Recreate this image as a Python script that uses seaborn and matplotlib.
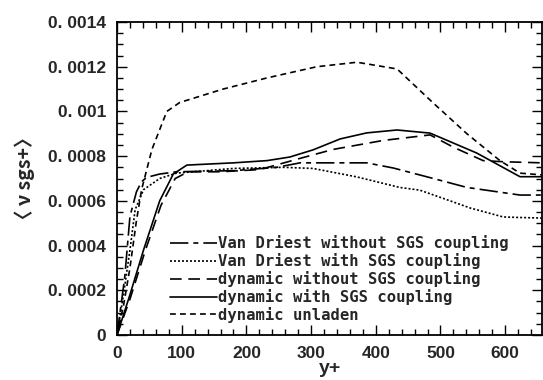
import matplotlib
matplotlib.use("Agg")
import matplotlib.pyplot as plt
import seaborn as sns
import pandas as pd
from matplotlib.ticker import MultipleLocator

# ---- data ----
labels = ["Van Driest without SGS coupling", "Van Driest with SGS coupling",
          "dynamic without SGS coupling", "dynamic with SGS coupling", "dynamic unladen"]

vd_without_x = [0, 12, 20, 30, 38, 46, 66, 92, 180, 247, 283, 386, 427, 489, 541, 623, 657]
vd_without_y = [0, 0.00026, 0.00053, 0.00064, 0.000686, 0.000705, 0.00072, 0.00073, 0.000735,
                0.00075, 0.00077, 0.00077, 0.000747, 0.0007, 0.00066, 0.000626, 0.000626]

vd_with_x = [0, 10, 20, 28, 41, 66, 92, 180, 257, 303, 371, 437, 468, 515, 546, 597, 618, 657]
vd_with_y = [0, 0.00018, 0.00038, 0.00056, 0.00065, 0.0007, 0.000724, 0.000745, 0.00075,
             0.000745, 0.000707, 0.00066, 0.000648, 0.0006, 0.000568, 0.000528, 0.000526, 0.000523]

dyn_without_x = [0, 20, 44, 68, 90, 110, 160, 221, 283, 334, 411, 484, 520, 566, 597, 657]
dyn_without_y = [0, 0.00016, 0.00038, 0.00058, 0.0007, 0.00073, 0.00073, 0.00074, 0.00079,
                 0.00083, 0.00087, 0.000895, 0.00084, 0.00078, 0.000775, 0.00077]

dyn_with_x = [0, 20, 41, 66, 87, 108, 180, 232, 267, 303, 345, 386, 433, 484, 556, 623, 657]
dyn_with_y = [0, 0.00018, 0.00038, 0.0006, 0.00072, 0.00076, 0.00077, 0.00078, 0.000796,
              0.000828, 0.000877, 0.000904, 0.000917, 0.000903, 0.000814, 0.000708, 0.000708]

unladen_x = [0, 10, 20, 30, 38, 54, 77, 97, 164, 232, 309, 371, 433, 488, 541, 592, 623, 657]
unladen_y = [0, 0.00013, 0.0003, 0.00051, 0.00065, 0.00083, 0.001, 0.00104, 0.0011, 0.00115,
             0.0012, 0.00122, 0.00119, 0.00104, 0.0009, 0.00078, 0.000724, 0.000716]

xtick_vals = [0, 100, 200, 300, 400, 500, 600]
xtick_labels = ["0", "100", "200", "300", "400", "500", "600"]
ytick_vals = [0, 0.0002, 0.0004, 0.0006, 0.0008, 0.001, 0.0012, 0.0014]
ytick_labels = ["0", "0. 0002", "0. 0004", "0. 0006", "0. 0008", "0. 001", "0. 0012", "0. 0014"]

series = [(vd_without_x, vd_without_y), (vd_with_x, vd_with_y),
          (dyn_without_x, dyn_without_y), (dyn_with_x, dyn_with_y),
          (unladen_x, unladen_y)]
frames = []
for lab, (xs, ys) in zip(labels, series):
    frames.append(pd.DataFrame({"y+": xs, "nu": ys, "case": lab}))
df = pd.concat(frames, ignore_index=True)

styles = {
    labels[0]: (0, (11, 3, 3, 3)),
    labels[1]: (0, (1.2, 1.2)),
    labels[2]: (0, (7, 4)),
    labels[3]: "-",
    labels[4]: (0, (3.5, 2.5)),
}

sns.set_style("ticks")
tick_font = ["Liberation Sans", "DejaVu Sans"]

fig = plt.figure(figsize=(5.43, 3.80), dpi=100)
ax = fig.add_axes([117 / 543, 1 - 335 / 380, 425 / 543, 313 / 380])

for lab in labels:
    sub = df[df["case"] == lab]
    sns.lineplot(data=sub, x="y+", y="nu", ax=ax, color="black", linewidth=1.2,
                 label=lab, sort=False, estimator=None)
    ax.lines[-1].set_linestyle(styles[lab])

ax.set_xlim(0, 657)
ax.set_ylim(0, 0.0014)
ax.set_xticks(xtick_vals)
ax.set_xticklabels(xtick_labels, family=tick_font, weight="bold", fontsize=12.5)
ax.set_yticks(ytick_vals)
ax.set_yticklabels(ytick_labels, family=tick_font, weight="bold", fontsize=12.5)
ax.xaxis.set_minor_locator(MultipleLocator(20))
ax.yaxis.set_minor_locator(MultipleLocator(0.00005))
ax.tick_params(which="both", direction="in", top=True, right=True, color="black", width=1)
ax.tick_params(which="major", length=7, pad=8)
ax.tick_params(which="minor", length=4)
for s in ax.spines.values():
    s.set_linewidth(1.3)
    s.set_color("black")

ax.set_xlabel("y+", family=tick_font, weight="bold", fontsize=14, labelpad=-1)
ax.set_ylabel("〈 ν sgs+〉", family=["Noto Sans CJK JP", "DejaVu Sans"], fontsize=14,
              weight="bold", labelpad=9)

leg = ax.legend(loc="upper left", bbox_to_anchor=(0.125, 0.318), frameon=False,
                prop={"family": "DejaVu Sans Mono", "size": 11.2, "weight": "bold"},
                handlelength=3.0, handletextpad=0.1, labelspacing=0.12, borderpad=0,
                borderaxespad=0)
for h in leg.get_lines():
    h.set_linewidth(1.2)

fig.savefig("out.png", dpi=100)
